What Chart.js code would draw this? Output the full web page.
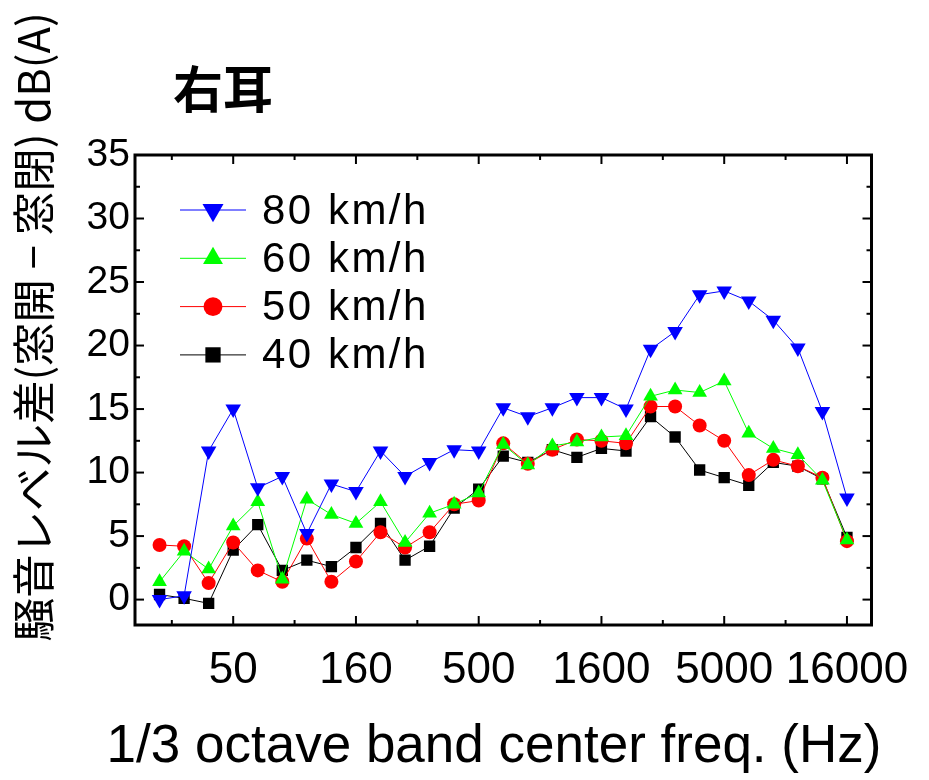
<!DOCTYPE html>
<html lang="ja">
<head>
<meta charset="UTF-8">
<title>右耳</title>
<script src="https://cdn.jsdelivr.net/npm/chart.js"></script>
<style>
  body { margin: 0; background: #fff; }
  #wrap { width: 929px; height: 780px; }
</style>
</head>
<body>
<div id="wrap"><canvas id="chart" width="929" height="780"></canvas></div>
<script>
// 1/3 octave band centres (Hz)
const bands = ['25', '31.5', '40', '50', '63', '80', '100', '125', '160', '200', '250', '315', '400', '500',
  '630', '800', '1000', '1250', '1600', '2000', '2500', '3150', '4000', '5000', '6300', '8000', '10000', '12500', '16000'];
const tickLabels = ['50', '160', '500', '1600', '5000', '16000'];
const yTickValues = [0, 2.5, 5, 7.5, 10, 12.5, 15, 17.5, 20, 22.5, 25, 27.5, 30, 32.5, 35];

const seriesNames = ['80 km/h', '60 km/h', '50 km/h', '40 km/h'];
const speed80 = [0.0, 0.3, 11.7, 15.0, 8.8, 9.7, 5.2, 9.1, 8.5, 11.7, 9.7, 10.8, 11.8, 11.7, 15.1,
  14.4, 15.1, 15.9, 15.9, 15.0, 19.7, 21.1, 24.0, 24.3, 23.5, 22.0, 19.8, 14.8, 8.0];
const speed60 = [1.4, 3.8, 2.4, 5.8, 7.7, 1.6, 7.9, 6.7, 6.0, 7.7, 4.5, 6.8, 7.5, 8.4, 12.2,
  10.6, 12.1, 12.4, 12.8, 12.9, 16.0, 16.5, 16.3, 17.2, 13.1, 11.9, 11.4, 9.4, 4.7];
const speed50 = [4.3, 4.2, 1.3, 4.5, 2.3, 1.4, 4.8, 1.4, 3.0, 5.3, 4.1, 5.3, 7.5, 7.8, 12.3,
  10.7, 11.8, 12.6, 12.5, 12.3, 15.2, 15.2, 13.7, 12.5, 9.8, 11.0, 10.5, 9.6, 4.6];
const speed40 = [0.4, 0.1, -0.3, 3.9, 5.9, 2.3, 3.1, 2.6, 4.1, 6.0, 3.1, 4.2, 7.2, 8.7, 11.3,
  10.8, 11.8, 11.2, 11.9, 11.7, 14.4, 12.8, 10.2, 9.6, 9.0, 10.8, 10.5, 9.5, 4.9];

const toPoints = vals => vals.map((v, i) => ({ x: i, y: v }));

const makeSet = (label, vals, color, style, rot, r) => ({
  label: label,
  data: toPoints(vals),
  borderColor: color,
  backgroundColor: color,
  borderWidth: 1,
  pointStyle: style,
  pointRotation: rot,
  pointRadius: r,
  pointBorderWidth: 0,
  pointBackgroundColor: color,
  legendRadius: r * 1.35
});

// inward ticks on all four sides + thick frame
const frameTicks = {
  id: 'frameTicks',
  afterDatasetsDraw(chart) {
    const { ctx, chartArea: a, scales: { x, y } } = chart;
    const seg = (x1, y1, x2, y2) => { ctx.beginPath(); ctx.moveTo(x1, y1); ctx.lineTo(x2, y2); ctx.stroke(); };
    ctx.save();
    ctx.strokeStyle = '#000';
    ctx.lineWidth = 2;
    x.ticks.forEach(t => {
      const px = x.getPixelForValue(t.value);
      const len = t.label ? 9 : 5;
      seg(px, a.bottom, px, a.bottom - len);
      seg(px, a.top, px, a.top + len);
    });
    y.ticks.forEach(t => {
      const py = y.getPixelForValue(t.value);
      const len = t.label !== '' ? 9 : 5;
      seg(a.left, py, a.left + len, py);
      seg(a.right, py, a.right - len, py);
    });
    ctx.lineWidth = 3;
    ctx.strokeRect(a.left, a.top, a.right - a.left, a.bottom - a.top);
    ctx.restore();
  }
};

// titles and the legend inside the plot
const texts = {
  id: 'texts',
  afterDraw(chart) {
    const ctx = chart.ctx;
    ctx.save();
    ctx.fillStyle = '#000';
    ctx.textBaseline = 'middle';

    ctx.font = 'bold 50px "Noto Sans CJK JP"';
    ctx.textAlign = 'center';
    ctx.fillText('右耳', 223, 89);

    ctx.font = '53px "Liberation Sans"';
    ctx.fillText('1/3 octave band center freq. (Hz)', 494, 747);

    ctx.save();
    ctx.translate(33, 327);
    ctx.rotate(-Math.PI / 2);
    ctx.font = '43.5px "Noto Sans CJK JP"';
    ctx.fillText('騒音レベル差(窓開 − 窓閉) dB(A)', 0, 0);
    ctx.restore();

    chart.data.datasets.forEach((ds, i) => {
      const ly = 210 + i * 48.3;
      ctx.strokeStyle = ds.borderColor;
      ctx.fillStyle = ds.borderColor;
      ctx.lineWidth = 1;
      ctx.beginPath(); ctx.moveTo(180, ly); ctx.lineTo(246, ly); ctx.stroke();
      Chart.helpers.drawPoint(ctx, { pointStyle: ds.pointStyle, rotation: ds.pointRotation, radius: ds.legendRadius, borderWidth: 0 }, 213, ly);
      ctx.fillStyle = '#000';
      ctx.textAlign = 'left';
      ctx.font = '42px "Liberation Sans"';
      ctx.letterSpacing = '2.5px';
      ctx.fillText(ds.label, 262, ly + 2);
      ctx.letterSpacing = '0px';
    });
    ctx.restore();
  }
};

new Chart(document.getElementById('chart'), {
  type: 'line',
  data: {
    datasets: [
      makeSet(seriesNames[0], speed80, '#0000ff', 'triangle', 180, 9),
      makeSet(seriesNames[1], speed60, '#00ff00', 'triangle', 0, 8.5),
      makeSet(seriesNames[2], speed50, '#ff0000', 'circle', 0, 7),
      makeSet(seriesNames[3], speed40, '#000000', 'rect', 0, 8)
    ]
  },
  options: {
    responsive: false,
    animation: false,
    layout: { padding: { top: 155, right: 56, left: 0, bottom: 0 } },
    plugins: {
      legend: { display: false },
      tooltip: { enabled: false }
    },
    scales: {
      x: {
        type: 'linear',
        min: -1,
        max: 29,
        grid: { display: false, drawTicks: false },
        border: { display: false },
        afterFit: s => { s.height = 155; },
        afterBuildTicks: s => {
          s.ticks = [];
          for (let v = 0.5; v <= 28; v += 2.5) s.ticks.push({ value: v });
        },
        ticks: {
          autoSkip: false,
          maxRotation: 0,
          padding: 19,
          color: '#000',
          font: { family: 'Liberation Sans', size: 44 },
          callback: v => (Number.isInteger(v) && tickLabels.includes(bands[v])) ? bands[v] : ''
        }
      },
      y: {
        min: -2,
        max: 35,
        grid: { display: false, drawTicks: false },
        border: { display: false },
        afterFit: s => { s.width = 135; },
        afterBuildTicks: s => { s.ticks = yTickValues.map(v => ({ value: v })); },
        ticks: {
          autoSkip: false,
          padding: 5,
          color: '#000',
          font: { family: 'Liberation Sans', size: 39 },
          callback: v => (v % 5 === 0 ? String(v) : '')
        }
      }
    }
  },
  plugins: [frameTicks, texts]
});
</script>
</body>
</html>
